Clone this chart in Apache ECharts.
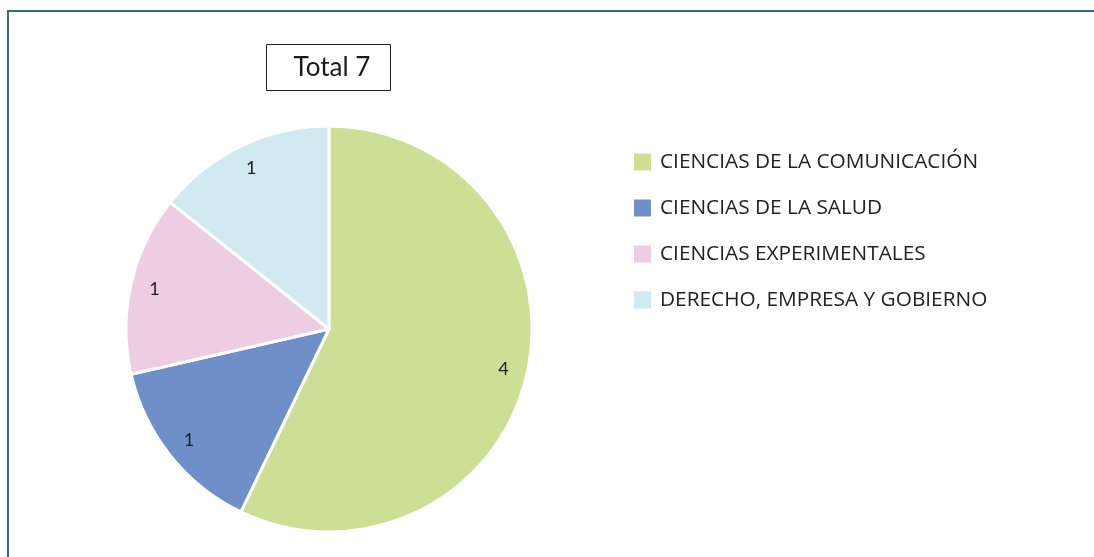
<!DOCTYPE html>
<html>
<head>
<meta charset="utf-8">
<script src="https://cdn.jsdelivr.net/npm/echarts@6/dist/echarts.min.js"></script>
<style>
  html, body { margin: 0; padding: 0; background: #fff; }
  #chart { width: 1094px; height: 557px; }
</style>
</head>
<body>
<div id="chart"></div>
<script>
// datos del gráfico
var categorias = ['CIENCIAS DE LA COMUNICACIÓN', 'CIENCIAS DE LA SALUD', 'CIENCIAS EXPERIMENTALES', 'DERECHO, EMPRESA Y GOBIERNO'];
var valores = [4, 1, 1, 1];
var colores = ['#cddf94', '#6f8fc9', '#eecde4', '#d1e9f1'];
var titulo = 'Total 7';

var myChart = echarts.init(document.getElementById('chart'));

var datosPie = [];
var datosEtiquetas = [];
for (var i = 0; i < categorias.length; i++) {
    datosPie.push({ name: categorias[i], value: valores[i], itemStyle: { color: colores[i] } });
    datosEtiquetas.push({ name: categorias[i], value: valores[i] });
}

var fuente = 'Lato, "Open Sans", sans-serif';

var option = {
    animation: false,
    graphic: [
        {
            // marco azul (sin borde derecho ni inferior visibles)
            type: 'rect',
            shape: { x: 8, y: 11, width: 1200, height: 600 },
            style: { fill: 'none', stroke: '#3a6593', lineWidth: 2 },
            silent: true
        },
        {
            type: 'rect',
            shape: { x: 266.5, y: 44.5, width: 124, height: 46 },
            style: { fill: '#fff', stroke: '#222', lineWidth: 1 },
            silent: true
        },
        {
            type: 'text',
            x: 332, y: 68,
            style: { text: titulo, fill: '#1a1a1a', font: '26px ' + fuente, align: 'center', verticalAlign: 'middle' },
            silent: true
        }
    ],
    legend: {
        orient: 'vertical',
        left: 632,
        top: 151.5,
        padding: 0,
        itemWidth: 19,
        itemHeight: 19,
        itemGap: 25,
        icon: 'rect',
        selectedMode: false,
        data: categorias.map(function (c, i) { return { name: c, itemStyle: { color: colores[i] } }; }),
        textStyle: { fontSize: 20.8, lineHeight: 20, color: '#222', fontFamily: '"Open Sans", sans-serif', padding: [0, 0, 0, 3] }
    },
    series: [
        {
            type: 'pie',
            center: [329, 329],
            radius: [0, 203],
            startAngle: 90,
            clockwise: true,
            silent: true,
            itemStyle: { borderColor: '#fff', borderWidth: 3 },
            label: { show: false },
            labelLine: { show: false },
            data: datosPie
        },
        {
            // serie transparente para colocar las etiquetas cerca del borde
            type: 'pie',
            center: [329, 329],
            radius: [148, 204],
            startAngle: 90,
            clockwise: true,
            silent: true,
            itemStyle: { color: 'rgba(0,0,0,0)' },
            label: { show: true, position: 'inside', formatter: '{c}', fontSize: 18, color: '#222', fontFamily: fuente },
            labelLine: { show: false },
            data: datosEtiquetas
        }
    ]
};

myChart.setOption(option);
</script>
</body>
</html>
